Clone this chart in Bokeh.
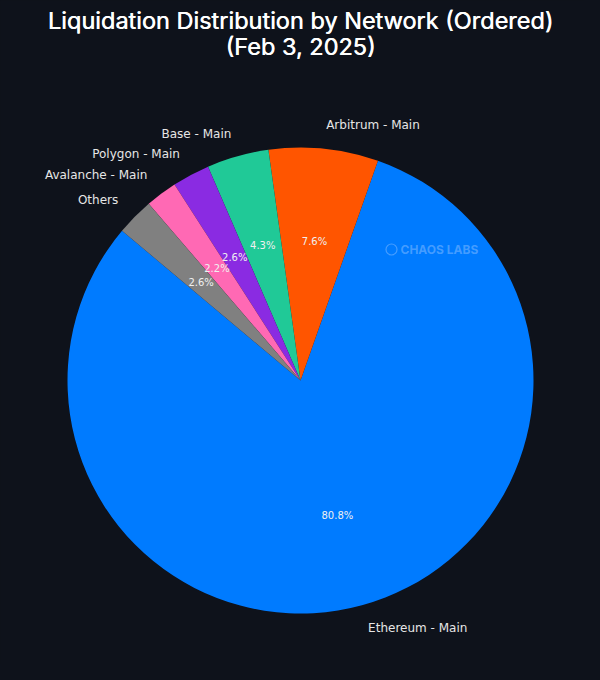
import math
from bokeh.plotting import figure
from bokeh.models import Range1d, ColumnDataSource
from bokeh.core.properties import value
from bokeh.embed import file_html
from bokeh.resources import INLINE

networks = ["Ethereum - Main", "Arbitrum - Main", "Base - Main", "Polygon - Main", "Avalanche - Main", "Others"]
shares = [80.8, 7.6, 4.3, 2.6, 2.2, 2.6]
colors = ["#007bff", "#ff5500", "#20c997", "#8a2be2", "#ff69b4", "#808080"]
title_lines = ["Liquidation Distribution by Network (Ordered)", "(Feb 3, 2025)"]
start_deg = 140.0

BG = "#0e121b"
W, H = 584, 664
cx, cy, R = 300, 284, 233

total = sum(shares)
starts, ends, mids = [], [], []
a = start_deg
for s in shares:
    span = 360.0 * s / total
    starts.append(math.radians(a))
    ends.append(math.radians(a + span))
    mids.append(math.radians(a + span / 2))
    a += span

p = figure(width=W, height=H, output_backend="svg", toolbar_location=None,
           x_range=Range1d(0, W), y_range=Range1d(0, H), min_border=0,
           background_fill_color=BG, border_fill_color=BG, outline_line_color=None)
p.axis.visible = False
p.grid.visible = False

src = ColumnDataSource(dict(start=starts, end=ends, color=colors,
                            x=[cx] * len(shares), y=[cy] * len(shares)))
p.wedge(x="x", y="y", radius=R, start_angle="start", end_angle="end",
        fill_color="color", line_color=None, source=src)

# outer labels
lx = [cx + 1.1 * R * math.cos(m) for m in mids]
ly = [cy + 1.1 * R * math.sin(m) for m in mids]
for x, y, t, m in zip(lx, ly, networks, mids):
    p.text(x=[x], y=[y], text=[t], text_color="#e6e6e6", text_font=value("DejaVu Sans"),
           text_font_size="12px", text_baseline="middle",
           text_align="left" if math.cos(m) >= 0 else "right")

# percent labels
px = [cx + 0.6 * R * math.cos(m) for m in mids]
py = [cy + 0.6 * R * math.sin(m) for m in mids]
p.text(x=px, y=py, text=[f"{s:.1f}%" for s in shares], text_color="#f0f0f0",
       text_font=value("DejaVu Sans"), text_font_size="10px",
       text_align="center", text_baseline="middle")

# title (normal weight drawn twice for a medium look)
for dx in (0.0, 0.5):
    p.text(x=[cx + dx], y=[H - 20], text=[title_lines[0]], text_color="#ffffff",
           text_font=value("Inter"), text_font_size="23.5px",
           text_align="center", text_baseline="middle")
    p.text(x=[cx + dx], y=[H - 46], text=[title_lines[1]], text_color="#ffffff",
           text_font=value("Inter"), text_font_size="23.5px",
           text_align="center", text_baseline="middle")

# watermark
p.text(x=[cx + 100], y=[cy + 131], text=["CHAOS LABS"], text_color="#9cc8ff",
       text_alpha=0.45, text_font=value("Inter"), text_font_size="12px",
       text_font_style="bold", text_align="left", text_baseline="middle")
p.scatter(x=[cx + 91], y=[cy + 131], size=11, marker="circle", fill_color=None,
          line_color="#9cc8ff", line_alpha=0.45, line_width=1.2)

html = file_html(p, INLINE)
html = html.replace("<head>", "<head><style>body{background:%s;}</style>" % BG, 1)
open("out.html", "w").write(html)
